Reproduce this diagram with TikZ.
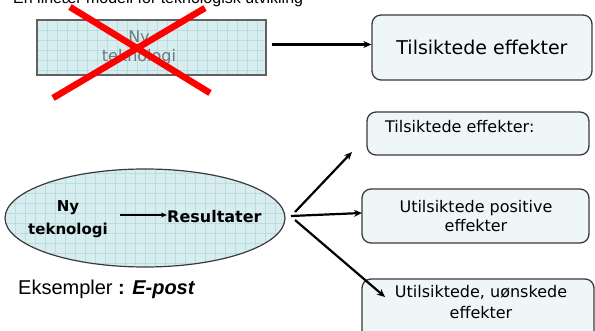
\documentclass[tikz,border=0pt]{standalone}
\usepackage{fontspec}
\setmainfont{Liberation Sans}
\newfontfamily\roundfont{DejaVu Sans}
\usetikzlibrary{arrows.meta,shapes.geometric}

\definecolor{gridfill}{HTML}{D8EDEF}
\definecolor{gridline}{HTML}{BBDDDF}
\definecolor{boxfill}{HTML}{EEF6F7}
\definecolor{boxline}{HTML}{3A3A3A}
\definecolor{fadedtext}{HTML}{687878}

\tikzset{
  effectbox/.style={draw=boxline, line width=1.3pt, rounded corners=9pt,
    fill=boxfill, inner sep=0pt},
  boxtext/.style={font=\roundfont\fontsize{16}{20}\selectfont, align=center, inner sep=0pt},
  flow/.style={line width=2.2pt, -{Stealth[length=8pt,width=7pt]}},
  cross/.style={draw=red, line width=6.5pt},
}

\begin{document}
\begin{tikzpicture}[x=1pt,y=-1pt]
\useasboundingbox (0,0) rectangle (595,331);

% heading, mostly above the page edge
\node[anchor=base west, inner sep=0pt, font=\fontsize{16}{18}\selectfont] (title) at (13,4)
  {En lineær modell for teknologisk utvikling};

% crossed-out technology box with grid fill
\fill[gridfill] (37,20) rectangle (266,75);
\foreach \x in {47,57,...,257} \draw[gridline, line width=0.5pt] (\x,20) -- (\x,75);
\foreach \y in {30,40,...,70} \draw[gridline, line width=0.5pt] (37,\y) -- (266,\y);
\node[draw=boxline!80, line width=1.1pt, minimum width=229pt, minimum height=55pt,
  inner sep=0pt] (oldtech) at (151.5,47.5) {};
\node[font=\roundfont\fontsize{16}{19}\selectfont, text=fadedtext, align=center]
  (oldtxt) at (139,48) {Ny\\teknologi};
\coordinate (xa1) at (70,7);
\coordinate (xa2) at (210,93);
\coordinate (xb1) at (205,8);
\coordinate (xb2) at (53,98);
\draw[cross] (xa1) -- (xa2);
\draw[cross] (xb1) -- (xb2);

% top right target box
\node[effectbox, minimum width=220pt, minimum height=65pt] (goal) at (482,47.5) {};
\node[boxtext, font=\roundfont\fontsize{19}{22}\selectfont] (goaltxt) at (482,47.5)
  {Tilsiktede effekter};
\draw[flow] (oldtech.east) ++(5,-3) coordinate (os) (os) -- (os -| goal.west);

% ellipse with grid fill
\fill[gridfill] (145,218) ellipse [x radius=140, y radius=49];
\begin{scope}
  \clip (145,218) ellipse [x radius=140, y radius=49];
  \foreach \x in {15,25,...,285} \draw[gridline, line width=0.5pt] (\x,165) -- (\x,270);
  \foreach \y in {173,183,...,263} \draw[gridline, line width=0.5pt] (0,\y) -- (290,\y);
\end{scope}
\node[draw=boxline, line width=1.2pt, ellipse, minimum width=280pt, minimum height=98pt,
  inner sep=0pt] (tech) at (145,218) {};
\node[font=\roundfont\bfseries\fontsize{15}{23}\selectfont, align=center, inner sep=0pt]
  (ny) at (68,219) {Ny\\teknologi};
\node[font=\roundfont\bfseries\fontsize{16}{18}\selectfont, anchor=west, inner sep=0pt]
  (res) at (167,217) {Resultater};
\coordinate (nyr) at (120,215);
\draw[line width=1.6pt, -{Stealth[length=6pt,width=5pt]}] (nyr) -- (res.west |- nyr);

% three effect boxes
\node[effectbox, minimum width=222pt, minimum height=43pt] (e1) at (478,133.5) {};
\node[boxtext, anchor=west] (e1txt) at (385,127) {Tilsiktede effekter:};
\node[effectbox, minimum width=227pt, minimum height=54pt] (e2) at (475.5,216) {};
\node[boxtext, font=\roundfont\fontsize{16}{19}\selectfont] (e2txt) at (476,216)
  {Utilsiktede positive\\effekter};
\node[effectbox, minimum width=232pt, minimum height=66pt] (e3) at (478,312) {};
\node[boxtext, font=\roundfont\fontsize{16}{21}\selectfont] (e3txt) at (481,302)
  {Utilsiktede, uønskede\\effekter};

% arrows from the results
\coordinate (s1) at (295,212);
\coordinate (s2) at (291,216);
\coordinate (s3) at (295,220);
\coordinate (t1) at (352,152);
\coordinate (t2) at (362,213);
\coordinate (t3) at (385,297);
\draw[flow] (s1) -- (t1);
\draw[flow] (s2) -- (t2);
\draw[flow] (s3) -- (t3);

% example line
\node[anchor=base west, inner sep=0pt, font=\fontsize{20}{24}\selectfont] (ex) at (18,295)
  {Eksempler \textbf{:} \textbf{\textit{E-post}}};
\end{tikzpicture}
\end{document}
